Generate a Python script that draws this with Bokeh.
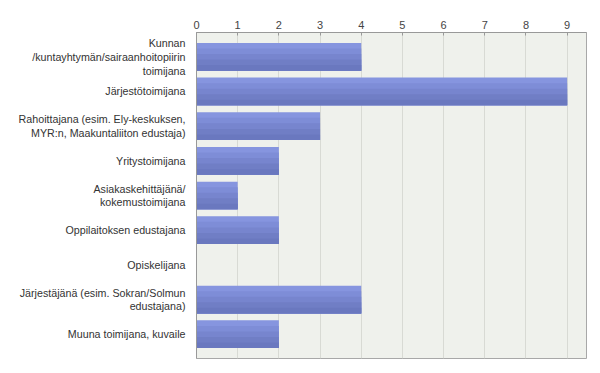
from bokeh.plotting import figure
from bokeh.models import FixedTicker, Range1d
from bokeh.embed import file_html
from bokeh.resources import INLINE

categories = [
    "Kunnan\n/kuntayhtymän/sairaanhoitopiirin\ntoimijana",
    "Järjestötoimijana",
    "Rahoittajana (esim. Ely-keskuksen,\nMYR:n, Maakuntaliiton edustaja)",
    "Yritystoimijana",
    "Asiakaskehittäjänä/\nkokemustoimijana",
    "Oppilaitoksen edustajana",
    "Opiskelijana",
    "Järjestäjänä (esim. Sokran/Solmun\nedustajana)",
    "Muuna toimijana, kuvaile",
]
counts = [4, 9, 3, 2, 1, 2, 0, 4, 2]
x_ticks = [0, 1, 2, 3, 4, 5, 6, 7, 8, 9]

pos = list(range(len(categories)))

p = figure(width=592, height=365, output_backend="svg", toolbar_location=None,
           x_range=Range1d(0, 9.47), y_range=Range1d(8.7, -0.7),
           x_axis_location="above", min_border_left=196, min_border_right=6,
           min_border_top=32, min_border_bottom=7)

p.background_fill_color = "#eff1ec"
p.border_fill_color = "white"
p.outline_line_color = "#a8a8a8"

# bars with overlapping shading bands (light top, darker bottom), no seams
shades = ["#8695df", "#7e8dd7", "#7785ce", "#707ec5", "#6a78bf"]
n = len(shades)
full = 0.8
for k, col in enumerate(shades):
    h = full * (n - k) / n
    off = 0.4 - h / 2  # bottom-anchored band (y axis inverted: +y is down)
    p.hbar(y=[i + off for i in pos], right=counts, left=0, height=h,
           fill_color=col, line_color=None)

# x axis on top
xa = p.xaxis[0]
xa.ticker = FixedTicker(ticks=x_ticks)
xa.axis_line_color = "#999999"
xa.major_tick_line_color = "#999999"
xa.major_tick_in = 3
xa.major_tick_out = 0
xa.minor_tick_line_color = None
xa.major_label_text_font = "Liberation Sans"
xa.major_label_text_font_size = "11px"
xa.major_label_text_color = "#444444"
xa.major_label_standoff = 4

ya = p.yaxis[0]
ya.ticker = FixedTicker(ticks=pos)
ya.major_label_overrides = {i: c for i, c in zip(pos, categories)}
ya.axis_line_color = "#999999"
ya.major_tick_line_color = None
ya.minor_tick_line_color = None
ya.major_label_text_font = "Liberation Sans"
ya.major_label_text_font_size = "10.7px"
ya.major_label_text_color = "#333333"
ya.major_label_text_line_height = 1.15
ya.major_label_standoff = 5
ya.major_label_text_align = "center"

p.xgrid.ticker = FixedTicker(ticks=x_ticks)
p.xgrid.grid_line_color = "#d8dad4"
p.ygrid.grid_line_color = None

open("out.html", "w").write(file_html(p, INLINE))
